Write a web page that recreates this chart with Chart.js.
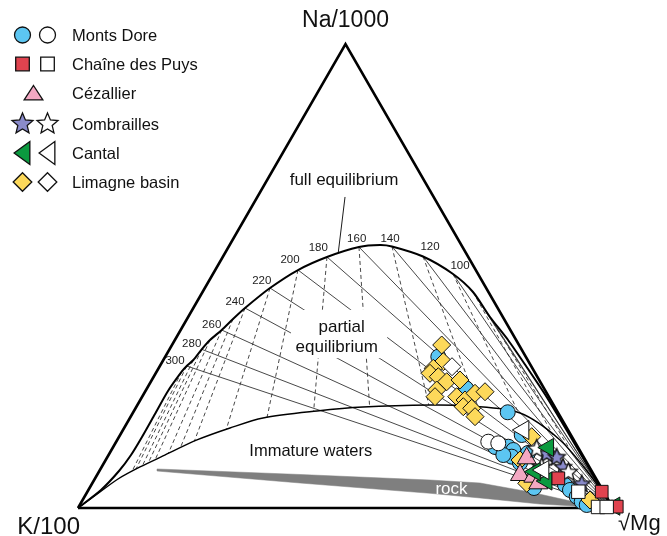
<!DOCTYPE html>
<html>
<head>
<meta charset="utf-8">
<title>Na-K-Mg ternary diagram</title>
<script src="https://cdn.jsdelivr.net/npm/chart.js"></script>
<style>
  html, body { margin: 0; padding: 0; background: #fff; }
  canvas { display: block; }
</style>
</head>
<body>
<canvas id="chart" width="667" height="536"></canvas>
<script>
// Ternary plot projected on x (K -> Mg, %) and y (Na, % of height)
const triangle = [[0, 0], [100, 0], [50, 100], [0, 0]];
const mgVertex = [100, 0];

// full equilibrium curve
const fullEquilibrium = [
  [0, 0], [4.30, 3.88], [7.66, 7.97], [9.91, 11.42], [11.96, 15.30], [14.39, 20.26],
  [16.82, 25.22], [19.38, 29.38], [20.32, 30.60], [21.55, 31.90], [23.12, 34.20],
  [24.67, 36.21], [26.86, 38.36], [28.97, 40.73], [31.22, 43.10], [35.89, 47.41],
  [41.12, 51.29], [46.54, 54.10], [52.52, 56.25], [56.45, 56.68], [58.69, 56.36],
  [64.49, 54.20], [70.10, 50.43], [73.83, 46.55], [77.01, 41.16], [80.38, 36.21],
  [83.74, 30.60], [87.48, 24.14], [91.97, 15.52], [96.26, 7.11], [100, 0]
];

// lower boundary (partial equilibrium / immature waters)
const partialEquilibrium = [
  [0, 0], [4.11, 3.45], [7.48, 6.25], [11.59, 8.84], [15.89, 11.21], [22.24, 14.66],
  [28.41, 17.24], [34.58, 19.40], [44.67, 20.91], [53.27, 21.77], [65.79, 22.20],
  [73.27, 21.98], [82.62, 20.47], [90.09, 14.66], [95.70, 7.11], [100, 0]
];

// Na-K isotherms (solid, towards the Mg corner)
const tempLabels = [300, 280, 260, 240, 220, 200, 180, 160, 140, 120, 100];
const naKTicks = [
  [20.32, 30.60], [23.12, 34.20], [26.86, 38.36], [31.22, 43.10], [35.89, 47.41],
  [41.12, 51.29], [46.54, 54.10], [52.52, 56.25], [58.69, 56.36], [64.49, 54.20],
  [70.10, 50.43], [73.83, 46.55], [77.01, 41.16]
];

// K-Mg isotherms (dashed)
const kMgTop = [
  [19.38, 29.38], [20.32, 30.60], [21.55, 31.90], [23.12, 34.20], [24.67, 36.21],
  [26.86, 38.36], [28.97, 40.73], [31.22, 43.10], [35.89, 47.41], [41.12, 51.29],
  [46.54, 54.10], [52.52, 56.25], [58.69, 56.36], [64.49, 54.20], [70.10, 50.43],
  [73.83, 46.55], [77.01, 41.16]
];
const kMgBottom = [
  [10.09, 7.89], [10.84, 8.38], [12.02, 9.07], [13.12, 9.68], [14.39, 10.34],
  [16.88, 11.77], [19.14, 13.00], [21.74, 14.38], [27.72, 16.96], [35.33, 19.50],
  [44.04, 20.82], [54.51, 21.81], [65.57, 22.20], [74.77, 21.77], [82.34, 20.47],
  [88.79, 15.73], [91.78, 12.93]
];

// rock dissolution band
const rock = [
  [14.77, 8.41], [41.50, 7.22], [65.80, 6.03], [75.14, 5.39], [84.49, 3.45],
  [92.90, 1.29], [96.08, 0.43], [96.08, 0.22], [86.36, 0.86], [75.14, 2.16],
  [65.80, 3.17], [41.50, 5.39], [14.77, 7.97], [14.77, 8.41]
];

// samples
const montsDoreFilled = [
  [67.35, 32.61], [72.52, 25.80], [80.32, 20.63], [82.94, 15.73], [77.95, 13.15],
  [80.43, 13.21], [81.37, 12.50], [81.07, 11.06], [79.50, 11.42], [84.11, 11.85],
  [82.62, 9.70], [85.24, 4.31], [91.03, 4.96], [91.96, 3.88], [93.22, 2.44],
  [94.15, 1.36], [95.09, 0.65]
];
const montsDoreOpen = [[76.69, 14.29], [78.56, 13.94]];
const puysFilled = [[97.89, 3.51], [89.78, 6.40], [100.7, 0.3]];
const puysOpen = [[93.52, 3.51], [97.20, 0.22], [98.82, 0.22]];
const cezallier = [[83.87, 10.71], [82.62, 7.11], [85.11, 6.75], [86.04, 5.32]];
const combraillesFilled = [[87.61, 11.79], [89.48, 11.06], [90.66, 8.90], [94.15, 5.32]];
const combraillesOpen = [[85.74, 12.87], [86.68, 8.90], [91.65, 7.82]];
const cantalFilled = [[87.91, 13.04], [87.61, 5.82], [85.42, 7.82], [100.3, 0.4]];
const cantalOpen = [[83.24, 16.81], [86.98, 8.19]];
const limagneFilled = [
  [67.98, 35.13], [68.28, 31.53], [66.41, 30.11], [65.80, 29.03], [67.35, 28.30],
  [68.92, 27.22], [71.40, 27.59], [67.05, 25.43], [66.73, 23.99], [70.79, 23.99],
  [72.34, 23.28], [74.21, 24.72], [76.08, 25.06], [72.02, 21.83], [73.59, 21.49],
  [74.21, 19.68], [84.81, 15.37], [82.62, 10.34], [83.87, 5.32], [95.70, 1.72]
];
const limagneOpen = [[69.91, 30.45]];

const legendNames = ["Monts Dore", "Chaîne des Puys", "Cézallier", "Combrailles", "Cantal", "Limagne basin"];

const COL = {
  blue: "#5cc6f2", red: "#e0434f", pink: "#f3a8c2", purple: "#8a8bcb",
  green: "#0b9a3f", yellow: "#fdd95a", white: "#ffffff"
};

const pts = arr => arr.map(([x, y]) => ({ x, y }));

// path helpers (legend + star image)
function shapePath(ctx, kind, x, y, r) {
  ctx.beginPath();
  if (kind === "circle") {
    ctx.arc(x, y, r, 0, Math.PI * 2);
  } else if (kind === "rect") {
    ctx.rect(x - r, y - r, 2 * r, 2 * r);
  } else if (kind === "diamond") {
    ctx.moveTo(x, y - r); ctx.lineTo(x + r, y); ctx.lineTo(x, y + r); ctx.lineTo(x - r, y);
    ctx.closePath();
  } else if (kind === "triangle") {
    ctx.moveTo(x, y - r); ctx.lineTo(x + r * 1.1, y + r * 0.7); ctx.lineTo(x - r * 1.1, y + r * 0.7);
    ctx.closePath();
  } else if (kind === "left") {
    ctx.moveTo(x - r * 0.8, y); ctx.lineTo(x + r * 0.7, y - r * 1.1); ctx.lineTo(x + r * 0.7, y + r * 1.1);
    ctx.closePath();
  } else if (kind === "star") {
    for (let i = 0; i < 10; i++) {
      const a = -Math.PI / 2 + i * Math.PI / 5;
      const rr = i % 2 === 0 ? r : r * 0.45;
      const px = x + Math.cos(a) * rr, py = y + Math.sin(a) * rr;
      if (i === 0) ctx.moveTo(px, py); else ctx.lineTo(px, py);
    }
    ctx.closePath();
  }
}
function drawShape(ctx, kind, x, y, r, fill) {
  ctx.save();
  shapePath(ctx, kind, x, y, r);
  ctx.fillStyle = fill;
  ctx.fill();
  ctx.lineWidth = 1.3;
  ctx.strokeStyle = "#111";
  ctx.stroke();
  ctx.restore();
}
function starImage(fill, r) {
  const c = document.createElement("canvas");
  const s = Math.ceil(r * 2 + 4);
  c.width = s; c.height = s;
  drawShape(c.getContext("2d"), "star", s / 2, s / 2 + 0.8, r, fill);
  return c;
}

function lineDs(data, opts) {
  return Object.assign({
    type: "line", data: pts(data), showLine: true, pointRadius: 0,
    borderColor: "#000", borderWidth: 1, fill: false, tension: 0, clip: false
  }, opts);
}
function markDs(label, data, style, color, r, extra) {
  return Object.assign({
    label, data: pts(data), pointStyle: style, pointRadius: r,
    pointBackgroundColor: color, backgroundColor: color,
    pointBorderColor: "#111", pointBorderWidth: 1, showLine: false, clip: false
  }, extra || {});
}

// bottom -> top drawing order
const datasets = [];
kMgTop.forEach((p, i) => {
  datasets.push(lineDs([p, kMgBottom[i]], { borderColor: "#333", borderWidth: 0.9, borderDash: [4, 3] }));
});
naKTicks.forEach(p => {
  datasets.push(lineDs([p, mgVertex], { borderColor: "#333", borderWidth: 0.9 }));
});
datasets.push(lineDs(rock, { borderColor: "#7f7f7f", borderWidth: 0.5, backgroundColor: "#7f7f7f", fill: "shape" }));
datasets.push(lineDs(partialEquilibrium, { borderWidth: 1.4, tension: 0.3 }));
datasets.push(lineDs(fullEquilibrium, { borderWidth: 2, tension: 0.25 }));
datasets.push(lineDs([[49.91, 67.03], [48.66, 55.17]], { borderWidth: 0.9 })); // leader
datasets.push(lineDs(triangle, { borderWidth: 2.6 }));
const maskIndex = datasets.length - 1;

datasets.push(markDs("Monts Dore", montsDoreFilled, "circle", COL.blue, 7.5));
datasets.push(markDs("Limagne basin", limagneFilled, "rectRot", COL.yellow, 9));
datasets.push(markDs("Limagne basin (open)", limagneOpen, "rectRot", COL.white, 9));
datasets.push(markDs("Monts Dore (open)", montsDoreOpen, "circle", COL.white, 7.5));
datasets.push(markDs("Cézallier", cezallier, "triangle", COL.pink, 11));
datasets.push(markDs("Combrailles", combraillesFilled, starImage(COL.purple, 9), COL.purple, 9));
datasets.push(markDs("Combrailles (open)", combraillesOpen, starImage(COL.white, 9.5), COL.white, 9));
datasets.push(markDs("Cantal", cantalFilled, "triangle", COL.green, 10.5, { pointRotation: -90 }));
datasets.push(markDs("Cantal (open)", cantalOpen, "triangle", COL.white, 11, { pointRotation: -90 }));
datasets.push(markDs("Chaîne des Puys", puysFilled, "rect", COL.red, 9));
datasets.push(markDs("Chaîne des Puys (open)", puysOpen, "rect", COL.white, 9.5));
datasets.forEach((d, i) => { d.order = datasets.length - i; });

const FONT = "Arial, 'Liberation Sans', sans-serif";

// label anchors in plot units
const tempLabelPos = [
  [18.13, 31.68], [21.25, 35.35], [24.99, 39.44], [29.35, 44.46], [34.34, 48.99],
  [39.63, 53.45], [44.92, 55.97], [52.09, 57.91], [58.32, 57.91], [65.80, 56.19], [71.40, 52.16]
];
const partialBox = { x0: 39.8, x1: 57.8, y0: 32.3, y1: 42.7 };

const decor = {
  id: "decor",
  afterDatasetDraw(chart, args) {
    if (args.index !== maskIndex) return;
    const { ctx, scales: { x, y } } = chart;
    ctx.save();
    ctx.fillStyle = "#fff";
    const l = x.getPixelForValue(partialBox.x0), r = x.getPixelForValue(partialBox.x1);
    const t = y.getPixelForValue(partialBox.y1), b = y.getPixelForValue(partialBox.y0);
    ctx.fillRect(l, t, r - l, b - t);
    ctx.restore();
  },
  afterDatasetsDraw(chart) {
    const { ctx, scales: { x, y } } = chart;
    const X = v => x.getPixelForValue(v), Y = v => y.getPixelForValue(v);
    ctx.save();
    ctx.fillStyle = "#111";

    // corner labels
    ctx.font = "23px " + FONT;
    ctx.textBaseline = "alphabetic";
    ctx.textAlign = "center";
    ctx.fillText("Na/1000", X(50), Y(100) - 17);
    ctx.font = "24px " + FONT;
    ctx.textAlign = "right";
    ctx.fillText("K/100", X(0) + 2, Y(0) + 26);
    ctx.font = "22px " + FONT;
    ctx.textAlign = "left";
    ctx.fillText("\u221AMg", X(100) + 5, Y(0) + 22);

    // temperature ticks
    ctx.font = "11.5px " + FONT;
    ctx.textAlign = "center";
    ctx.textBaseline = "middle";
    ctx.fillStyle = "#222";
    tempLabels.forEach((t, i) => {
      ctx.fillText(String(t), X(tempLabelPos[i][0]), Y(tempLabelPos[i][1]));
    });

    // region labels
    ctx.fillStyle = "#111";
    ctx.textBaseline = "alphabetic";
    ctx.font = "17px " + FONT;
    ctx.fillText("full equilibrium", X(49.72), Y(69.61));
    ctx.fillText("partial", X(49.29), Y(38.0));
    ctx.fillText("equilibrium", X(48.36), Y(33.69));
    ctx.font = "16.5px " + FONT;
    ctx.fillText("Immature waters", X(43.51), Y(11.21));
    ctx.fillStyle = "#fff";
    ctx.font = "17px " + FONT;
    ctx.fillText("rock", X(69.81), Y(3.02));

    // legend
    const rows = [35, 64, 93, 124, 153, 182];
    const filled = [
      ["circle", COL.blue, 8], ["rect", COL.red, 6.8], null,
      ["star", COL.purple, 11], ["left", COL.green, 10.5], ["diamond", COL.yellow, 9.3]
    ];
    const open = [
      ["circle", COL.white, 8], ["rect", COL.white, 6.8], null,
      ["star", COL.white, 11], ["left", COL.white, 10.5], ["diamond", COL.white, 9.3]
    ];
    rows.forEach((ry, i) => {
      if (filled[i]) {
        drawShape(ctx, filled[i][0], 22.5, ry, filled[i][2], filled[i][1]);
        drawShape(ctx, open[i][0], 47.5, ry, open[i][2], open[i][1]);
      } else {
        drawShape(ctx, "triangle", 33.5, ry + 1, 8.5, COL.pink);
      }
    });
    ctx.fillStyle = "#111";
    ctx.font = "16.5px " + FONT;
    ctx.textAlign = "left";
    ctx.textBaseline = "middle";
    legendNames.forEach((n, i) => ctx.fillText(n, 72, rows[i] + 1));
    ctx.restore();
  }
};

new Chart(document.getElementById("chart"), {
  type: "scatter",
  data: { datasets },
  options: {
    responsive: false,
    animation: false,
    devicePixelRatio: 1,
    events: [],
    layout: { padding: { left: 78, right: 54, top: 44, bottom: 28 } },
    scales: {
      x: { type: "linear", min: 0, max: 100, display: false },
      y: { type: "linear", min: 0, max: 100, display: false }
    },
    plugins: { legend: { display: false }, tooltip: { enabled: false } }
  },
  plugins: [decor]
});
</script>
</body>
</html>
